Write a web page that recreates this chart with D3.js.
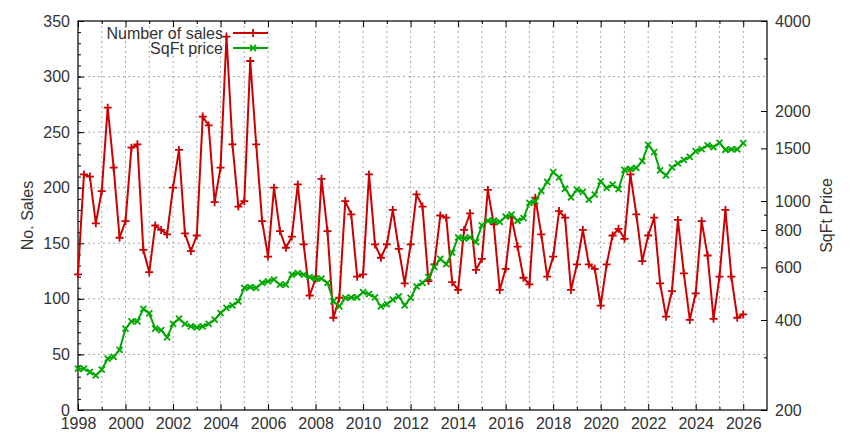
<!DOCTYPE html>
<html>
<head>
<meta charset="utf-8">
<script src="https://cdn.jsdelivr.net/npm/d3@7"></script>
<style>
  body { margin: 0; background: #fff; }
  svg { display: block; }
  .grid line { stroke: #a8a8a8; stroke-width: 1; stroke-dasharray: 2,3; }
  .tick line { stroke: #000; }
</style>
</head>
<body>
<div id="chart"></div>
<script>
// quarterly data, first point 1998 Q1
var startYear = 1998;

var sales = [122, 212, 210, 168, 197, 272, 218, 155, 170, 236, 239, 144, 124, 166, 162, 158,
  200, 234, 159, 143, 157, 264, 256, 187, 218, 336, 239, 183, 188, 314, 239, 170,
  138, 200, 161, 146, 156, 203, 149, 103, 118, 208, 161, 83, 101, 188, 176, 120,
  122, 212, 149, 137, 149, 180, 145, 114, 149, 194, 183, 116, 131, 175, 173, 115,
  108, 162, 177, 126, 136, 198, 167, 108, 127, 173, 147, 119, 113, 191, 158, 120,
  138, 179, 173, 108, 131, 162, 131, 127, 94, 131, 157, 163, 154, 212, 176, 134,
  157, 173, 114, 84, 107, 171, 123, 81, 105, 170, 139, 82, 120, 180, 120, 83, 86];

var sqftPrice = [275, 275, 268, 261, 273, 297, 301, 318, 374, 396, 396, 436, 421, 374, 370, 350,
  388, 404, 388, 381, 378, 381, 388, 401, 422, 439, 448, 462, 512, 515, 512, 532,
  539, 546, 525, 525, 567, 574, 567, 556, 550, 550, 532, 462, 444, 474, 476, 476,
  496, 488, 476, 444, 452, 468, 480, 448, 474, 518, 532, 556, 602, 640, 615, 672,
  756, 748, 756, 729, 829, 859, 859, 851, 886, 900, 859, 877, 985, 998, 1082, 1158,
  1250, 1200, 1099, 1029, 1091, 1072, 1010, 1050, 1164, 1106, 1134, 1095, 1270, 1280, 1290, 1360,
  1540, 1458, 1265, 1219, 1295, 1336, 1373, 1406, 1468, 1492, 1536, 1515, 1565, 1484, 1488, 1488, 1562];

var yearTicks = d3.range(1998, 2027, 2);
var minorYears = d3.range(1999, 2027, 2);
var salesTicks = d3.range(0, 351, 50);
var priceTicks = [200, 400, 600, 800, 1000, 1500, 2000, 4000];
var priceMinor = [300, 500, 700, 900, 3000];

var font = '"Liberation Sans", Arial, sans-serif';
var textColor = '#333';

// set the dimensions and margins of the graph
var margin = {top: 21, right: 84, bottom: 26, left: 78},
    width = 851 - margin.left - margin.right,
    height = 436 - margin.top - margin.bottom;

var x = d3.scaleLinear().domain([1998, 2027]).range([0, width]);
var y = d3.scaleLinear().domain([0, 350]).range([height, 0]);
var y2 = d3.scaleLog().domain([200, 4000]).range([height, 0]);

var salesData = sales.map(function(v, i) { return {t: startYear + i / 4, v: v}; });
var priceData = sqftPrice.map(function(v, i) { return {t: startYear + i / 4, v: v}; });

var svg = d3.select('#chart').append('svg')
    .attr('width', 851)
    .attr('height', 436)
  .append('g')
    .attr('transform', 'translate(' + margin.left + ',' + margin.top + ')');

// grid
var grid = svg.append('g').attr('class', 'grid');
grid.selectAll('.vx')
    .data(d3.range(1999, 2027))
  .enter().append('line')
    .attr('x1', function(d) { return x(d); })
    .attr('x2', function(d) { return x(d); })
    .attr('y1', 0)
    .attr('y2', height);
grid.selectAll('.hy')
    .data(d3.range(50, 301, 50))
  .enter().append('line')
    .attr('x1', 0)
    .attr('x2', width)
    .attr('y1', function(d) { return y(d); })
    .attr('y2', function(d) { return y(d); });

function styleAxis(g) {
  g.select('.domain').remove();
  g.attr('font-family', font).attr('font-size', 16);
  g.selectAll('text').attr('fill', textColor);
}

// x axis (bottom labelled, top mirrored)
svg.append('g')
    .attr('transform', 'translate(0,' + height + ')')
    .call(d3.axisBottom(x).tickValues(yearTicks).tickFormat(d3.format('d')).tickSize(-6).tickPadding(8))
    .call(styleAxis);
svg.append('g')
    .attr('transform', 'translate(0,' + height + ')')
    .call(d3.axisBottom(x).tickValues(minorYears).tickFormat('').tickSize(-3))
    .call(styleAxis);
svg.append('g')
    .call(d3.axisTop(x).tickValues(yearTicks).tickFormat('').tickSize(-6))
    .call(styleAxis);
svg.append('g')
    .call(d3.axisTop(x).tickValues(minorYears).tickFormat('').tickSize(-3))
    .call(styleAxis);

// left axis
svg.append('g')
    .call(d3.axisLeft(y).tickValues(salesTicks).tickSize(-6).tickPadding(8))
    .call(styleAxis);
svg.append('g')
    .call(d3.axisLeft(y).tickValues(d3.range(0, 351, 10)).tickFormat('').tickSize(-3))
    .call(styleAxis);

// right axis (log)
svg.append('g')
    .attr('transform', 'translate(' + width + ',0)')
    .call(d3.axisRight(y2).tickValues(priceTicks).tickFormat(d3.format('d')).tickSize(-6).tickPadding(8))
    .call(styleAxis);
svg.append('g')
    .attr('transform', 'translate(' + width + ',0)')
    .call(d3.axisRight(y2).tickValues(priceMinor).tickFormat('').tickSize(-3))
    .call(styleAxis);

// border
svg.append('rect')
    .attr('width', width)
    .attr('height', height)
    .attr('fill', 'none')
    .attr('stroke', '#000')
    .attr('stroke-width', 1.2);

// axis titles
svg.append('text')
    .attr('transform', 'translate(' + (27 - margin.left) + ',' + (height / 2) + ') rotate(-90)')
    .attr('text-anchor', 'middle')
    .attr('dy', '0.35em')
    .attr('font-family', font).attr('font-size', 16).attr('fill', textColor)
    .text('No. Sales');
svg.append('text')
    .attr('transform', 'translate(' + (826 - margin.left) + ',' + (height / 2) + ') rotate(-90)')
    .attr('text-anchor', 'middle')
    .attr('dy', '0.35em')
    .attr('font-family', font).attr('font-size', 16).attr('fill', textColor)
    .text('SqFt Price');

var plus = 'M-4,0H4M0,-4V4';
var cross = 'M-3,-3L3,3M-3,3L3,-3';

var salesColor = '#cc0000';
var priceColor = '#00a800';

var salesLine = d3.line()
    .x(function(d) { return x(d.t); })
    .y(function(d) { return y(d.v); });
var priceLine = d3.line()
    .x(function(d) { return x(d.t); })
    .y(function(d) { return y2(d.v); });

// sales series
svg.append('path')
    .datum(salesData)
    .attr('fill', 'none')
    .attr('stroke', salesColor)
    .attr('stroke-width', 2)
    .attr('d', salesLine);
svg.selectAll('.sdot')
    .data(salesData)
  .enter().append('path')
    .attr('transform', function(d) { return 'translate(' + x(d.t) + ',' + y(d.v) + ')'; })
    .attr('d', plus)
    .attr('stroke', salesColor)
    .attr('stroke-width', 1.8);

// price series
svg.append('path')
    .datum(priceData)
    .attr('fill', 'none')
    .attr('stroke', priceColor)
    .attr('stroke-width', 2)
    .attr('d', priceLine);
svg.selectAll('.pdot')
    .data(priceData)
  .enter().append('path')
    .attr('transform', function(d) { return 'translate(' + x(d.t) + ',' + y2(d.v) + ')'; })
    .attr('d', cross)
    .attr('stroke', priceColor)
    .attr('stroke-width', 1.8);

// legend
var legend = [
  {label: 'Number of sales', color: salesColor, mark: plus, y: 12},
  {label: 'SqFt price', color: priceColor, mark: cross, y: 27}
];
var lg = svg.selectAll('.legend')
    .data(legend)
  .enter().append('g')
    .attr('transform', function(d) { return 'translate(0,' + d.y + ')'; });
lg.append('text')
    .attr('x', 145)
    .attr('dy', '0.35em')
    .attr('text-anchor', 'end')
    .attr('font-family', font).attr('font-size', 16).attr('fill', textColor)
    .text(function(d) { return d.label; });
lg.append('line')
    .attr('x1', 155).attr('x2', 190)
    .attr('stroke', function(d) { return d.color; })
    .attr('stroke-width', 2);
lg.append('path')
    .attr('transform', 'translate(175,0)')
    .attr('d', function(d) { return d.mark; })
    .attr('stroke', function(d) { return d.color; })
    .attr('stroke-width', 1.8);
</script>
</body>
</html>
